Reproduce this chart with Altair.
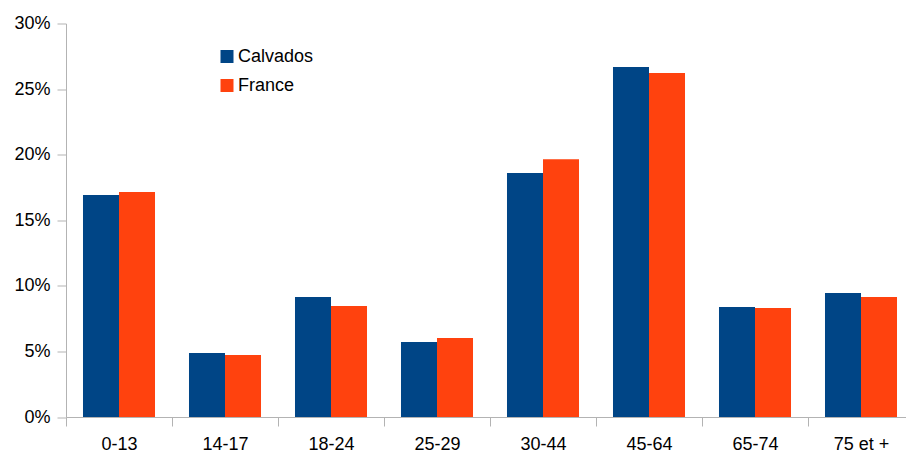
import altair as alt
import pandas as pd

categories = ["0-13", "14-17", "18-24", "25-29", "30-44", "45-64", "65-74", "75 et +"]
calvados = [16.92, 4.88, 9.15, 5.72, 18.60, 26.68, 8.38, 9.45]
france = [17.15, 4.73, 8.46, 6.02, 19.66, 26.22, 8.31, 9.15]
series = ["Calvados", "France"]
colors = ["#004586", "#ff420e"]

rows = []
for i, c in enumerate(categories):
    rows.append({"age": c, "zone": "Calvados", "value": calvados[i] / 100})
    rows.append({"age": c, "zone": "France", "value": france[i] / 100})
df = pd.DataFrame(rows)

font = "Liberation Sans"

chart = alt.Chart(df).mark_bar().encode(
    x=alt.X("age:N", sort=categories, title=None,
            scale=alt.Scale(paddingInner=0, paddingOuter=0, range=[0, 848]),
            axis=alt.Axis(labelAngle=0, tickBand="extent", tickSize=9, labelPadding=9,
                          labelFontSize=18, labelFont=font, labelColor="#000000",
                          domainColor="#b3b3b3", tickColor="#b3b3b3", grid=False)),
    xOffset=alt.XOffset("zone:N", sort=series,
                        scale=alt.Scale(paddingInner=0, paddingOuter=0.472)),
    y=alt.Y("value:Q", title=None,
            scale=alt.Scale(domain=[0, 0.3], nice=False),
            axis=alt.Axis(values=[0, 0.05, 0.1, 0.15, 0.2, 0.25, 0.3], format=".0%",
                          tickSize=9, labelPadding=7, labelFontSize=18, labelFont=font,
                          labelColor="#000000", domainColor="#b3b3b3", tickColor="#b3b3b3",
                          grid=False)),
    color=alt.Color("zone:N", sort=series, title=None,
                    scale=alt.Scale(domain=series, range=colors),
                    legend=alt.Legend(orient="none", legendX=152, legendY=24,
                                      symbolType="square", symbolSize=169,
                                      symbolStrokeWidth=0, labelFontSize=18,
                                      labelFont=font, labelColor="#000000",
                                      rowPadding=11, padding=0, labelOffset=2)),
).properties(
    width=840, height=393.5,
    autosize=alt.AutoSizeParams(type="none"),
    padding={"left": 66, "top": 23.5, "right": 0, "bottom": 35},
).configure_view(stroke=None)

chart.save("out.html", embed_options={"renderer": "svg", "actions": False})
